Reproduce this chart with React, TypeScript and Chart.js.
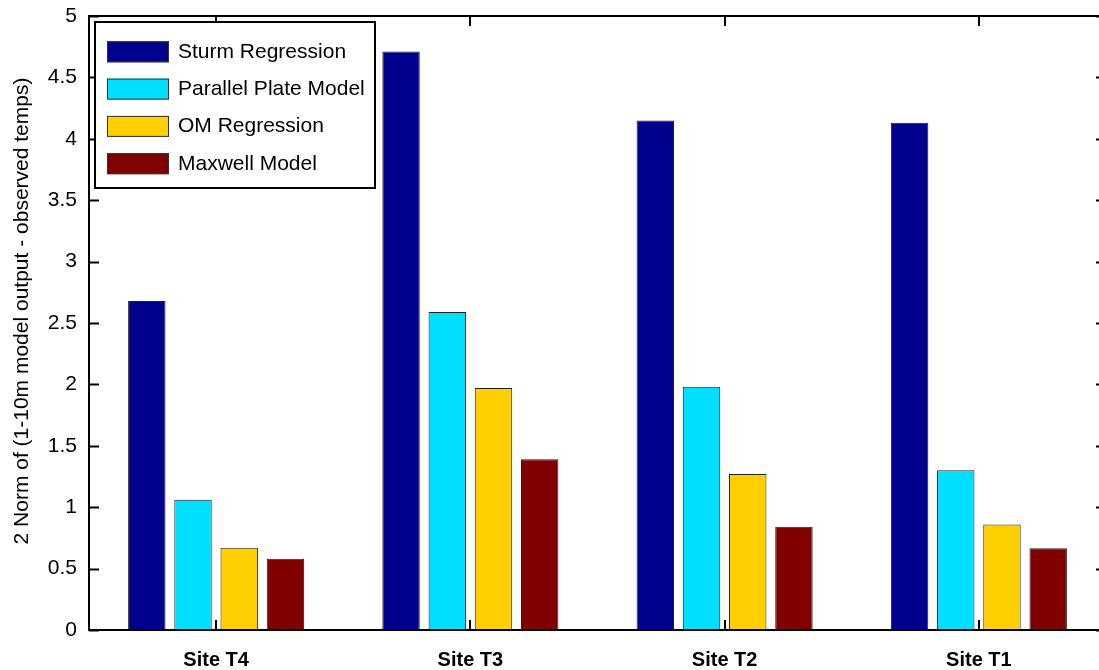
import React, { useEffect, useRef } from "react";
import { Chart, registerables } from "chart.js";

Chart.register(...registerables);

// Sites along the x axis
const sites = ["Site T4", "Site T3", "Site T2", "Site T1"];

// 2-norm error for each model at each site
const sturmRegression = [2.68, 4.71, 4.15, 4.13];
const parallelPlate = [1.06, 2.59, 1.98, 1.3];
const omRegression = [0.67, 1.97, 1.27, 0.86];
const maxwellModel = [0.58, 1.39, 0.84, 0.665];

const seriesNames = ["Sturm Regression", "Parallel Plate Model", "OM Regression", "Maxwell Model"];
const seriesColors = ["#00008F", "#00DFFF", "#FFCF00", "#800000"];

const yTicks = [0, 0.5, 1, 1.5, 2, 2.5, 3, 3.5, 4, 4.5, 5];
const yTitle = "2 Norm of (1-10m model output - observed temps)";

const FONT = "'Liberation Sans', Arial, Helvetica, sans-serif";

// Boxed axes with inward ticks, legend and rotated y title
const framePlugin = {
  id: "frame",
  afterDraw(chart: any) {
    const { ctx, chartArea } = chart;
    const { left, right, top, bottom } = chartArea;
    const xs = chart.scales.x;
    const ys = chart.scales.y;
    ctx.save();

    // ticks
    ctx.strokeStyle = "#000";
    ctx.lineWidth = 2;
    ctx.beginPath();
    yTicks.forEach((v) => {
      const y = Math.round(ys.getPixelForValue(v)) + 0.5;
      ctx.moveTo(left, y);
      ctx.lineTo(left + 10, y);
      ctx.moveTo(right, y);
      ctx.lineTo(right - 10, y);
    });
    sites.forEach((_, i) => {
      const x = Math.round(xs.getPixelForValue(i));
      ctx.moveTo(x, bottom);
      ctx.lineTo(x, bottom - 10);
      ctx.moveTo(x, top);
      ctx.lineTo(x, top + 10);
    });
    ctx.stroke();

    // axes box
    ctx.lineWidth = 2;
    ctx.strokeRect(left, top, right - left, bottom - top);

    // legend
    const lx = 95, ly = 22, lw = 280, lh = 166;
    ctx.fillStyle = "#fff";
    ctx.fillRect(lx, ly, lw, lh);
    ctx.lineWidth = 2;
    ctx.strokeStyle = "#000";
    ctx.strokeRect(lx, ly, lw, lh);
    ctx.font = `21px ${FONT}`;
    ctx.textBaseline = "alphabetic";
    ctx.textAlign = "left";
    chart.data.datasets.forEach((ds: any, i: number) => {
      const cy = 51.8 + i * 37.3;
      ctx.fillStyle = ds.backgroundColor;
      ctx.fillRect(107, cy - 10.5, 62, 21);
      ctx.lineWidth = 1;
      ctx.strokeStyle = "#333";
      ctx.strokeRect(107.5, cy - 10, 61, 20);
      ctx.fillStyle = "#000";
      ctx.fillText(ds.label, 178, cy + 6);
    });

    // y title
    ctx.translate(22, 311);
    ctx.rotate(-Math.PI / 2);
    ctx.textAlign = "center";
    ctx.textBaseline = "middle";
    ctx.font = `21px ${FONT}`;
    ctx.fillStyle = "#000";
    ctx.fillText(yTitle, 0, 0);
    ctx.restore();
  },
};

export default function App() {
  const canvasRef = useRef<HTMLCanvasElement | null>(null);

  useEffect(() => {
    if (!canvasRef.current) return;
    const seriesValues = [sturmRegression, parallelPlate, omRegression, maxwellModel];
    const chart = new Chart(canvasRef.current, {
      type: "bar",
      data: {
        labels: sites,
        datasets: seriesValues.map((vals, i) => ({
          label: seriesNames[i],
          data: vals,
          backgroundColor: seriesColors[i],
          borderColor: "#222",
          borderWidth: 1,
          categoryPercentage: 0.727,
          barPercentage: 0.81,
        })),
      },
      options: {
        animation: false,
        responsive: false,
        devicePixelRatio: 1,
        layout: { padding: { left: 0, top: 16, right: 14, bottom: 0 } },
        plugins: { legend: { display: false }, tooltip: { enabled: false } },
        scales: {
          x: {
            grid: { display: false, drawTicks: false },
            border: { display: false },
            ticks: {
              color: "#000",
              padding: 18,
              font: { family: FONT, size: 20, weight: "bold" },
            },
            afterFit: (s: any) => {
              s.height = 40;
              s.paddingLeft = 0;
              s.paddingRight = 0;
            },
          },
          y: {
            min: 0,
            max: 5,
            grid: { display: false, drawTicks: false },
            border: { display: false },
            ticks: {
              stepSize: 0.5,
              color: "#000",
              padding: 12,
              font: { family: FONT, size: 21 },
              callback: (v: any) => String(v),
            },
            afterFit: (s: any) => {
              s.width = 89;
              s.paddingTop = 0;
              s.paddingBottom = 0;
            },
          },
        },
      },
      plugins: [framePlugin],
    });
    return () => chart.destroy();
  }, []);

  return (
    <div
      style={{
        position: "absolute",
        left: 0,
        top: 0,
        width: 1099,
        height: 670,
        overflow: "hidden",
        background: "#fff",
      }}
    >
      <canvas ref={canvasRef} width={1120} height={670} style={{ display: "block" }} />
    </div>
  );
}
